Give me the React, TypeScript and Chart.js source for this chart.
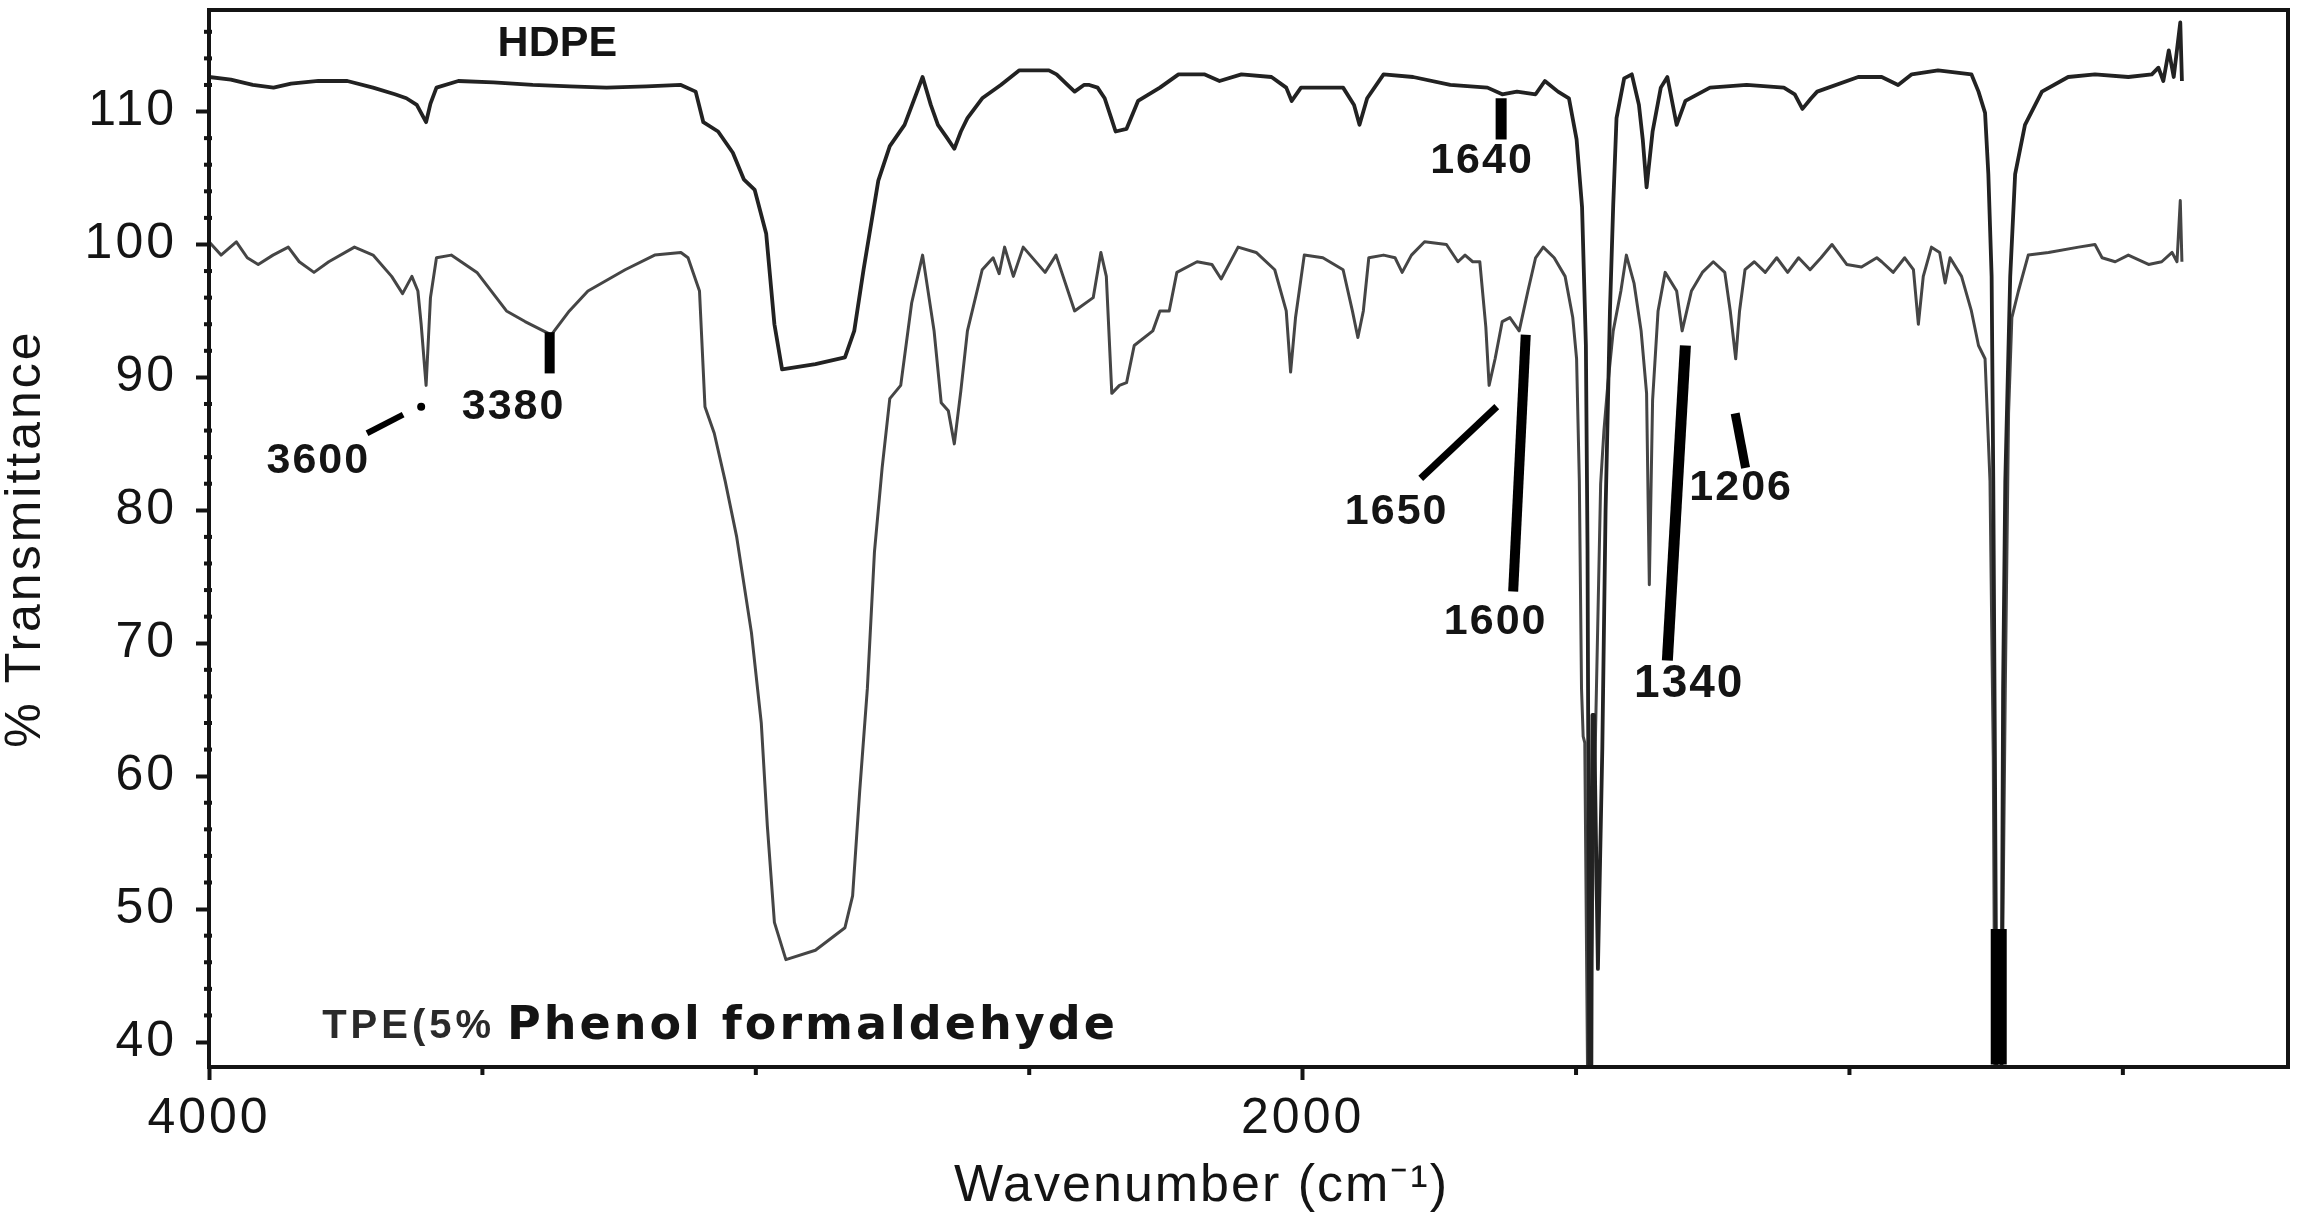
import React, { useEffect, useRef } from 'react';
import { Chart, registerables } from 'chart.js';

Chart.register(...registerables);

// ---- Data (wavenumber in cm-1, % transmittance) ----
const hdpeWavenumbers = [
  4000, 3960, 3920, 3882, 3850, 3800, 3747, 3700, 3660, 3639, 3620, 3603, 3595, 3584, 3544, 3480, 3408, 3340, 3273, 3200,
  3137, 3110, 3096, 3069, 3042, 3022, 3002, 2981, 2966, 2952, 2891, 2837, 2820, 2803, 2776, 2755, 2728, 2695, 2680, 2667,
  2650, 2637, 2625, 2613, 2586, 2552, 2518, 2464, 2450, 2430, 2417, 2400, 2390, 2375, 2362, 2350, 2342, 2322, 2301, 2261,
  2227, 2180, 2152, 2112, 2057, 2030, 2020, 2003, 1967, 1926, 1906, 1896, 1882, 1852, 1798, 1730, 1662, 1635, 1608, 1574,
  1557, 1533, 1513, 1499, 1489, 1482, 1479, 1477, 1476, 1472, 1470, 1467, 1460, 1452, 1446, 1438, 1432, 1426, 1412, 1398,
  1385, 1378, 1371, 1360, 1345, 1333, 1316, 1300, 1255, 1188, 1120, 1100, 1086, 1070, 1059, 984, 941, 911, 886, 838,
  777, 764, 752, 746, 740, 737, 734, 731, 722, 719, 715, 706, 697, 679, 648, 600, 551, 490, 447, 435,
  426, 416, 407, 395, 392,
];
const hdpeTransmittance = [
  112.6, 112.4, 112.0, 111.8, 112.1, 112.3, 112.3, 111.8, 111.3, 111.0, 110.5, 109.2, 110.6, 111.8, 112.3, 112.2, 112.0, 111.9, 111.8, 111.9,
  112.0, 111.5, 109.2, 108.5, 106.9, 104.9, 104.1, 100.8, 94.0, 90.6, 91.0, 91.5, 93.5, 98.1, 104.8, 107.4, 109.0, 112.6, 110.5, 109.0,
  108.0, 107.2, 108.5, 109.5, 111.0, 112.0, 113.1, 113.1, 112.8, 112.0, 111.5, 112.0, 112.0, 111.8, 111.0, 109.5, 108.5, 108.7, 110.8, 111.8,
  112.8, 112.8, 112.3, 112.8, 112.6, 111.8, 110.8, 111.8, 111.8, 111.8, 110.5, 109.0, 111.0, 112.8, 112.6, 112.0, 111.8, 111.3, 111.5, 111.3,
  112.3, 111.5, 111.0, 107.9, 102.8, 92.4, 77.0, 55.0, 38.0, 38.0, 64.6, 64.6, 45.5, 62.0, 80.0, 95.0, 103.0, 109.5, 112.5, 112.8,
  110.5, 107.9, 104.3, 108.5, 111.8, 112.6, 109.0, 110.8, 111.8, 112.0, 111.8, 111.3, 110.2, 111.0, 111.5, 112.6, 112.6, 112.0, 112.8, 113.1,
  112.8, 111.5, 109.9, 105.3, 97.6, 82.2, 61.5, 38.0, 38.0, 66.6, 82.2, 97.6, 105.3, 109.0, 111.5, 112.6, 112.8, 112.6, 112.8, 113.3,
  112.3, 114.6, 112.6, 116.7, 112.3,
];

const tpeWavenumbers = [
  4000, 3978, 3950, 3930, 3910, 3883, 3855, 3835, 3808, 3781, 3734, 3700, 3666, 3646, 3629, 3618, 3612, 3603, 3595, 3584,
  3557, 3510, 3456, 3422, 3374, 3341, 3307, 3239, 3185, 3137, 3124, 3103, 3093, 3076, 3056, 3035, 3008, 2990, 2979, 2966,
  2945, 2891, 2837, 2823, 2810, 2796, 2783, 2769, 2755, 2735, 2715, 2695, 2674, 2661, 2648, 2637, 2625, 2613, 2586, 2566,
  2555, 2545, 2529, 2511, 2471, 2451, 2417, 2383, 2369, 2359, 2349, 2335, 2322, 2308, 2274, 2261, 2244, 2230, 2193, 2166,
  2149, 2118, 2085, 2051, 2030, 2022, 2013, 1997, 1963, 1926, 1909, 1899, 1889, 1879, 1852, 1831, 1818, 1801, 1777, 1737,
  1716, 1703, 1689, 1676, 1665, 1659, 1648, 1635, 1621, 1604, 1588, 1574, 1560, 1540, 1520, 1506, 1499, 1494, 1490, 1487,
  1484, 1479, 1475, 1466, 1455, 1449, 1442, 1432, 1418, 1408, 1394, 1381, 1371, 1366, 1360, 1350, 1337, 1316, 1306, 1289,
  1269, 1249, 1228, 1218, 1208, 1201, 1191, 1174, 1154, 1133, 1113, 1093, 1072, 1052, 1032, 1005, 978, 950, 941, 920,
  899, 883, 874, 865, 850, 835, 825, 816, 795, 777, 764, 752, 743, 737, 734, 722, 715, 709, 703, 691,
  673, 636, 581, 551, 538, 514, 490, 453, 429, 410, 401, 395, 392,
];
const tpeTransmittance = [
  100.2, 99.2, 100.2, 99.0, 98.5, 99.2, 99.8, 98.7, 97.9, 98.7, 99.8, 99.2, 97.6, 96.3, 97.6, 96.5, 94.0, 89.4, 96.0, 99.0,
  99.2, 97.9, 95.0, 94.2, 93.2, 95.0, 96.5, 98.1, 99.2, 99.4, 99.0, 96.5, 87.8, 85.8, 82.2, 78.0, 70.8, 64.0, 56.3, 49.0,
  46.2, 46.9, 48.6, 51.0, 58.9, 66.6, 76.9, 83.2, 88.4, 89.4, 95.6, 99.2, 93.5, 88.1, 87.5, 85.0, 89.0, 93.5, 98.1, 99.0,
  97.8, 99.8, 97.6, 99.8, 97.9, 99.2, 95.0, 96.0, 99.4, 97.6, 88.8, 89.4, 89.6, 92.4, 93.5, 95.0, 95.0, 97.9, 98.7, 98.5,
  97.4, 99.8, 99.4, 98.1, 95.0, 90.4, 94.5, 99.2, 99.0, 98.1, 95.0, 93.0, 95.0, 99.0, 99.2, 99.0, 97.9, 99.2, 100.2, 100.0,
  98.7, 99.2, 98.7, 98.7, 93.8, 89.4, 91.4, 94.2, 94.5, 93.5, 96.5, 99.0, 99.8, 99.0, 97.6, 94.5, 91.4, 82.2, 66.6, 63.0,
  62.5, 38.0, 38.0, 60.0, 82.0, 86.0, 89.4, 93.5, 96.5, 99.2, 97.1, 93.5, 88.8, 74.4, 88.3, 95.0, 97.9, 96.5, 93.5, 96.5,
  97.9, 98.7, 97.9, 95.0, 91.4, 95.0, 98.1, 98.7, 97.9, 99.0, 97.9, 99.0, 98.1, 99.0, 100.0, 98.5, 98.3, 99.0, 98.7, 97.9,
  99.0, 98.1, 94.0, 97.6, 99.8, 99.4, 97.1, 99.0, 97.6, 95.0, 92.4, 91.4, 82.2, 61.5, 38.0, 38.0, 66.6, 87.3, 94.5, 96.5,
  99.2, 99.4, 99.8, 100.0, 99.0, 98.7, 99.2, 98.5, 98.7, 99.4, 98.7, 103.3, 98.7,
];

// ---- Axis ticks ----
const yTickLabels = [40, 50, 60, 70, 80, 90, 100, 110];
const xTickLabels = [4000, 2000];
const xMinorTicks = [3500, 3000, 2500, 1500, 1000, 500];

// ---- Peak annotations (text, wavenumber, transmittance) ----
const peakTexts = ['HDPE', '3600', '3380', '1640', '1650', '1600', '1340', '1206'];
const peakTextWn = [3363, 3800, 3443, 1672, 1828, 1647, 1293, 1198];
const peakTextT = [115.1, 83.7, 87.8, 106.3, 79.9, 71.6, 66.9, 81.7];

// marker segments: from (wn, T) to (wn, T)
const markerFromWn = [3377, 3711, 1637, 1784, 1592, 1300, 1209, 727];
const markerFromT = [93.4, 85.8, 111.0, 82.4, 93.2, 92.4, 87.3, 48.5];
const markerToWn = [3377, 3645, 1637, 1645, 1615, 1333, 1190, 727];
const markerToT = [90.3, 87.2, 107.9, 87.8, 73.9, 68.7, 83.2, 38.3];

const FONT = '"Liberation Sans", Arial, Helvetica, sans-serif';
const INK = '#141414';

const decorPlugin = {
  id: 'decor',
  beforeDraw(chart: any) {
    (chart.ctx as any).letterSpacing = '3px';
  },
  afterDraw(chart: any) {
    const { ctx, chartArea } = chart;
    const xs = chart.scales.x;
    const ys = chart.scales.y;
    ctx.save();
    (ctx as any).letterSpacing = '0px';

    // frame
    ctx.strokeStyle = INK;
    ctx.lineWidth = 4;
    ctx.strokeRect(chartArea.left, chartArea.top, chartArea.right - chartArea.left, chartArea.bottom - chartArea.top);

    // minor y ticks (every 2 units)
    ctx.fillStyle = INK;
    for (let v = 38; v <= 118; v += 2) {
      if (v % 10 === 0) continue;
      const py = ys.getPixelForValue(v);
      if (py < chartArea.top + 2 || py > chartArea.bottom - 2) continue;
      ctx.fillRect(chartArea.left - 5, py - 2, 8, 4);
    }
    // minor x ticks
    xMinorTicks.forEach((v) => {
      const px = xs.getPixelForValue(v);
      ctx.fillRect(px - 2, chartArea.bottom, 4, 8);
    });

    // marker bars
    const widths = [10, 6, 11, 7, 10, 11, 9, 16];
    ctx.strokeStyle = '#000';
    ctx.lineCap = 'butt';
    for (let i = 0; i < markerFromWn.length; i++) {
      ctx.lineWidth = widths[i];
      ctx.beginPath();
      ctx.moveTo(xs.getPixelForValue(markerFromWn[i]), ys.getPixelForValue(markerFromT[i]));
      ctx.lineTo(xs.getPixelForValue(markerToWn[i]), ys.getPixelForValue(markerToT[i]));
      ctx.stroke();
    }
    // small dot at end of 3600 marker
    ctx.fillStyle = '#000';
    ctx.beginPath();
    ctx.arc(xs.getPixelForValue(3612), ys.getPixelForValue(87.8), 4, 0, Math.PI * 2);
    ctx.fill();

    // peak labels
    ctx.fillStyle = INK;
    ctx.textAlign = 'center';
    ctx.textBaseline = 'middle';
    for (let i = 0; i < peakTexts.length; i++) {
      const isWord = peakTexts[i] === 'HDPE';
      const size = peakTexts[i] === '1340' ? 46 : 43;
      (ctx as any).letterSpacing = isWord ? '0px' : '2px';
      ctx.font = `bold ${size}px ${FONT}`;
      ctx.fillText(peakTexts[i], xs.getPixelForValue(peakTextWn[i]), ys.getPixelForValue(peakTextT[i]));
    }

    // TPE sample label
    ctx.textAlign = 'left';
    ctx.textBaseline = 'alphabetic';
    (ctx as any).letterSpacing = '4px';
    ctx.fillStyle = '#2a2a2a';
    ctx.font = `bold 40px ${FONT}`;
    ctx.fillText('TPE(5%', xs.getPixelForValue(3793), ys.getPixelForValue(40.3));
    (ctx as any).letterSpacing = '3px';
    ctx.fillStyle = INK;
    ctx.font = `bold 46px "DejaVu Sans", ${FONT}`;
    ctx.fillText('Phenol formaldehyde', xs.getPixelForValue(3455), ys.getPixelForValue(40.2));

    // x axis title
    (ctx as any).letterSpacing = '2px';
    ctx.textAlign = 'center';
    ctx.textBaseline = 'middle';
    ctx.font = `52px ${FONT}`;
    ctx.fillText('Wavenumber (cm\u207B\u00B9)', xs.getPixelForValue(2185), chartArea.bottom + 120);

    ctx.restore();
    (ctx as any).letterSpacing = '0px';
  },
};

export default function App() {
  const canvasRef = useRef<HTMLCanvasElement | null>(null);

  useEffect(() => {
    document.body.style.margin = '0';
    const canvas = canvasRef.current;
    if (!canvas) return;

    const hdpeData = hdpeWavenumbers.map((w, i) => ({ x: w, y: hdpeTransmittance[i] }));
    const tpeData = tpeWavenumbers.map((w, i) => ({ x: w, y: tpeTransmittance[i] }));

    const chart = new Chart(canvas, {
      type: 'line',
      data: {
        datasets: [
          {
            label: 'HDPE',
            data: hdpeData,
            borderColor: '#222222',
            borderWidth: 3.8,
            pointRadius: 0,
            tension: 0,
            borderJoinStyle: 'round',
          },
          {
            label: 'TPE(5% Phenol formaldehyde)',
            data: tpeData,
            borderColor: '#454545',
            borderWidth: 3,
            pointRadius: 0,
            tension: 0,
            borderJoinStyle: 'round',
          },
        ],
      },
      options: {
        responsive: false,
        animation: false,
        devicePixelRatio: 1,
        layout: { padding: { left: 0, right: 10, top: 10, bottom: 0 } },
        plugins: {
          legend: { display: false },
          tooltip: { enabled: false },
          title: { display: false },
        },
        scales: {
          x: {
            type: 'linear',
            reverse: true,
            min: 198,
            max: 4000,
            border: { display: false },
            grid: {
              drawOnChartArea: false,
              drawTicks: true,
              tickLength: 13,
              tickWidth: 4,
              tickColor: INK,
            },
            ticks: {
              color: INK,
              font: { family: FONT, size: 50 },
              padding: 9,
              maxRotation: 0,
              autoSkip: false,
              callback: (v: any) => String(v),
            },
            afterBuildTicks: (scale: any) => {
              scale.ticks = xTickLabels.map((v) => ({ value: v }));
            },
            afterFit: (scale: any) => {
              scale.height = 148;
              scale.paddingLeft = 0;
              scale.paddingRight = 0;
            },
          },
          y: {
            type: 'linear',
            min: 38.12,
            max: 117.64,
            border: { display: false },
            grid: {
              drawOnChartArea: false,
              drawTicks: true,
              tickLength: 13,
              tickWidth: 4,
              tickColor: INK,
            },
            ticks: {
              color: INK,
              font: { family: FONT, size: 50 },
              padding: 19,
              callback: (v: any) => String(v),
            },
            title: {
              display: true,
              text: '% Transmittance',
              color: INK,
              font: { family: FONT, size: 50, lineHeight: 1.05 },
              padding: { top: 0, bottom: 0 },
            },
            afterBuildTicks: (scale: any) => {
              scale.ticks = yTickLabels.map((v) => ({ value: v }));
            },
            afterFit: (scale: any) => {
              scale.width = 209;
              scale.paddingTop = 0;
              scale.paddingBottom = 0;
            },
          },
        },
      },
      plugins: [decorPlugin],
    });

    return () => {
      chart.destroy();
    };
  }, []);

  return (
    <div style={{ width: 2298, height: 1215, background: '#fff' }}>
      <canvas ref={canvasRef} width={2298} height={1215} style={{ display: 'block' }} />
    </div>
  );
}
